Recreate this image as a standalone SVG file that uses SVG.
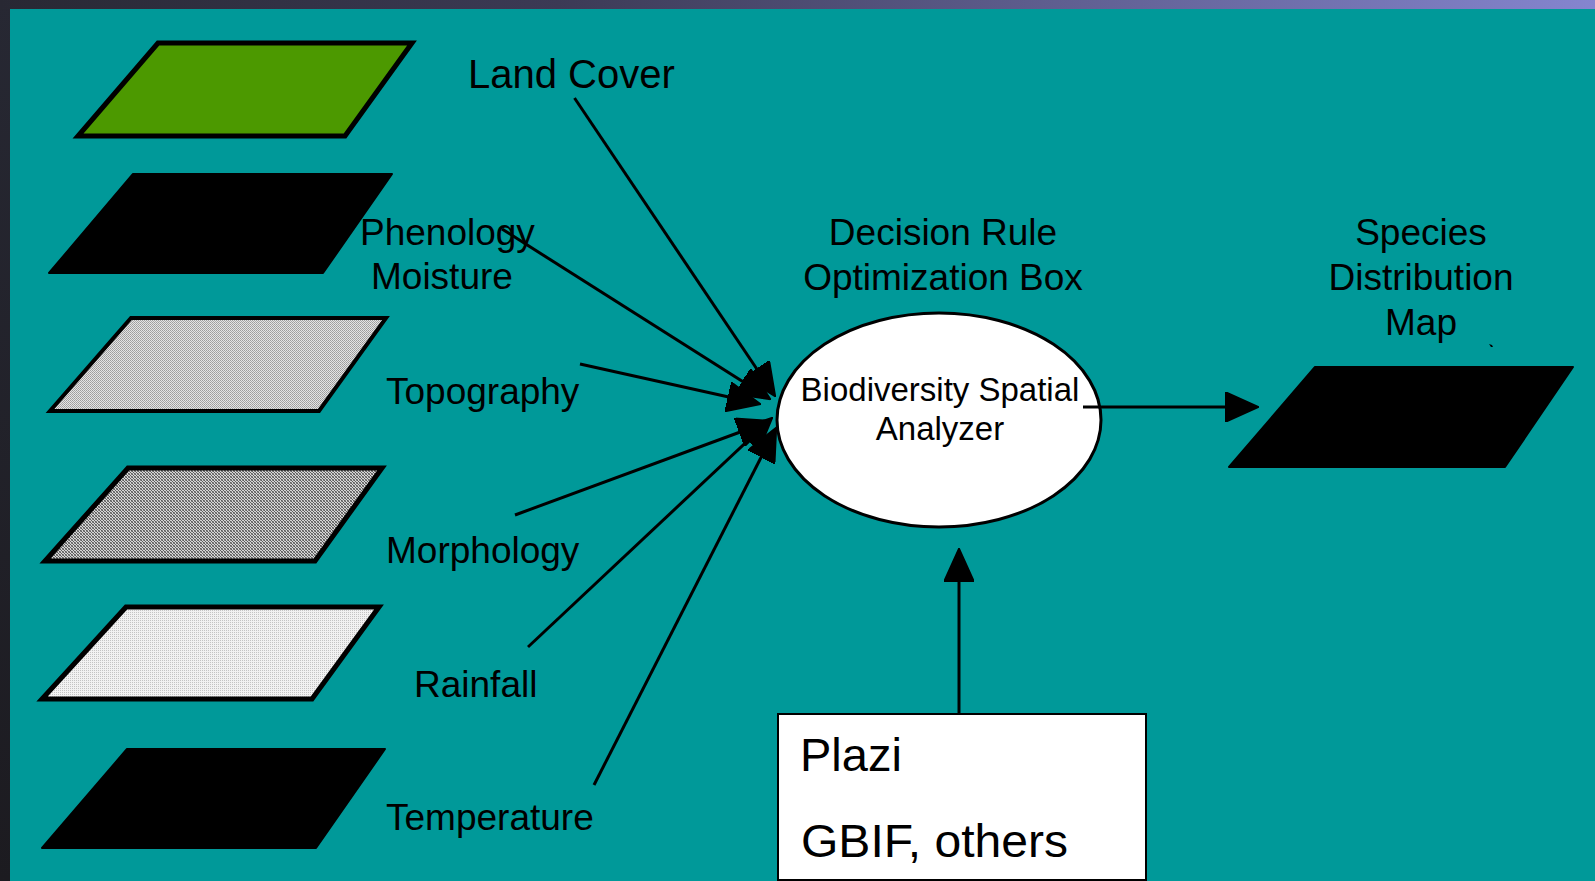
<svg xmlns="http://www.w3.org/2000/svg" width="1595" height="881" viewBox="0 0 1595 881">
  <defs>
    <linearGradient id="topBar" x1="0" y1="0" x2="1" y2="0">
      <stop offset="0" stop-color="#282833"/>
      <stop offset="0.35" stop-color="#3c3a55"/>
      <stop offset="1" stop-color="#8585cf"/>
    </linearGradient>
    <linearGradient id="sideBar" x1="0" y1="0" x2="0" y2="1">
      <stop offset="0" stop-color="#272833"/>
      <stop offset="1" stop-color="#1c1b20"/>
    </linearGradient>
    <!-- dithered greys for the raster layers -->
    <pattern id="ditherMid" width="2" height="2" patternUnits="userSpaceOnUse">
      <rect width="2" height="2" fill="#e4e4e4"/>
      <rect width="1" height="1" fill="#9c9c9c"/>
      <rect x="1" y="1" width="1" height="1" fill="#a8a8a8"/>
    </pattern>
    <pattern id="ditherDark" width="3" height="3" patternUnits="userSpaceOnUse">
      <rect width="3" height="3" fill="#d6d6d6"/>
      <path d="M0,0h1v1h-1zM1,1h1v1h-1zM2,2h1v1h-1z" fill="#5c5c5c"/>
      <path d="M2,0h1v1h-1zM0,2h1v1h-1z" fill="#8a8a8a"/>
    </pattern>
    <pattern id="ditherLight" width="2" height="2" patternUnits="userSpaceOnUse">
      <rect width="2" height="2" fill="#f2f2f2"/>
      <rect width="1" height="1" fill="#c4c4c4"/>
    </pattern>
    <marker id="arrow" markerUnits="userSpaceOnUse" markerWidth="34" markerHeight="30" viewBox="0 0 31 28" refX="21" refY="14" orient="auto">
      <path d="M0,0 L31,14 L0,28 z" fill="#000" stroke="#000" stroke-width="1.5" stroke-linejoin="round"/>
    </marker>
  </defs>
  <style>
    .label { font-family: "Liberation Sans", Arial, sans-serif; font-size: 37px; fill: #000; }
    .big { font-size: 40px; }
    .inner { font-size: 33px; text-anchor: middle; }
    .src { font-size: 47px; }
    .mid { text-anchor: middle; }
    .layer { stroke: #000; stroke-linejoin: miter; }
    .solid { fill: #000; stroke: #000; stroke-width: 2; stroke-linejoin: round; }
    .conn { stroke: #000; stroke-width: 3; fill: none; marker-end: url(#arrow); }
  </style>

  <!-- frame -->
  <rect width="1595" height="881" fill="#009999"/>
  <rect width="10" height="881" fill="url(#sideBar)"/>
  <rect width="1595" height="9" fill="url(#topBar)"/>

  <!-- input layers -->
  <g id="layer-landcover">
    <polygon class="layer" points="158,43 412,43 345,136 78,136" fill="#4c9900" stroke-width="5"/>
  </g>
  <g id="layer-phenology">
    <polygon class="solid" points="133,174 392,174 323,273 49,273"/>
  </g>
  <g id="layer-topography">
    <polygon class="layer" points="131,318 386,318 319,411 50,411" fill="url(#ditherMid)" stroke-width="4"/>
  </g>
  <g id="layer-morphology">
    <polygon class="layer" points="128,468 382,468 315,561 45,561" fill="url(#ditherDark)" stroke-width="5"/>
  </g>
  <g id="layer-rainfall">
    <polygon class="layer" points="126,607 379,607 312,699 42,699" fill="url(#ditherLight)" stroke-width="5"/>
  </g>
  <g id="layer-temperature">
    <polygon class="solid" points="127,749 385,749 316,848 42,848"/>
  </g>

  <!-- layer labels -->
  <g id="labels">
    <text class="label big" x="468" y="88">Land Cover</text>
    <text class="label" x="360" y="245">Phenology</text>
    <text class="label" x="371" y="289">Moisture</text>
    <text class="label" x="386" y="404">Topography</text>
    <text class="label" x="386" y="563">Morphology</text>
    <text class="label" x="414" y="697">Rainfall</text>
    <text class="label" x="386" y="830">Temperature</text>
  </g>

  <!-- analyzer -->
  <g id="analyzer">
    <text class="label mid" x="943" y="245">Decision Rule</text>
    <text class="label mid" x="943" y="290">Optimization Box</text>
    <ellipse cx="939" cy="420" rx="162" ry="107" fill="#fff" stroke="#000" stroke-width="3"/>
    <text class="label inner" x="940" y="401">Biodiversity Spatial</text>
    <text class="label inner" x="940" y="440">Analyzer</text>
  </g>

  <!-- output map -->
  <g id="species-map">
    <text class="label mid" x="1421" y="245">Species</text>
    <text class="label mid" x="1421" y="290">Distribution</text>
    <text class="label mid" x="1421" y="335">Map</text>
    <path d="M1489,344 l3,1 l1,2 l-2,0 z" fill="#000"/>
    <polygon class="solid" points="1315,367 1573,367 1505,467 1229,467"/>
  </g>

  <!-- occurrence sources -->
  <g id="sources">
    <rect x="778" y="714" width="368" height="166" fill="#fff" stroke="#000" stroke-width="2"/>
    <text class="label src" x="800" y="771">Plazi</text>
    <text class="label src" x="801" y="857" textLength="267" lengthAdjust="spacingAndGlyphs">GBIF, others</text>
  </g>

  <!-- connectors -->
  <g id="connectors">
    <line class="conn" x1="574.5" y1="98" x2="769.4" y2="387.7"/>
    <line class="conn" x1="502" y1="229" x2="761.6" y2="393.6"/>
    <line class="conn" x1="580" y1="364" x2="750.2" y2="401.8"/>
    <line class="conn" x1="515" y1="515" x2="760.6" y2="424.5"/>
    <line class="conn" x1="528" y1="647" x2="764.7" y2="424.8"/>
    <line class="conn" x1="594" y1="785" x2="771.5" y2="436.9"/>
    <line class="conn" x1="1083" y1="407" x2="1248" y2="407"/>
    <line class="conn" x1="959" y1="713" x2="959" y2="559"/>
  </g>
</svg>
